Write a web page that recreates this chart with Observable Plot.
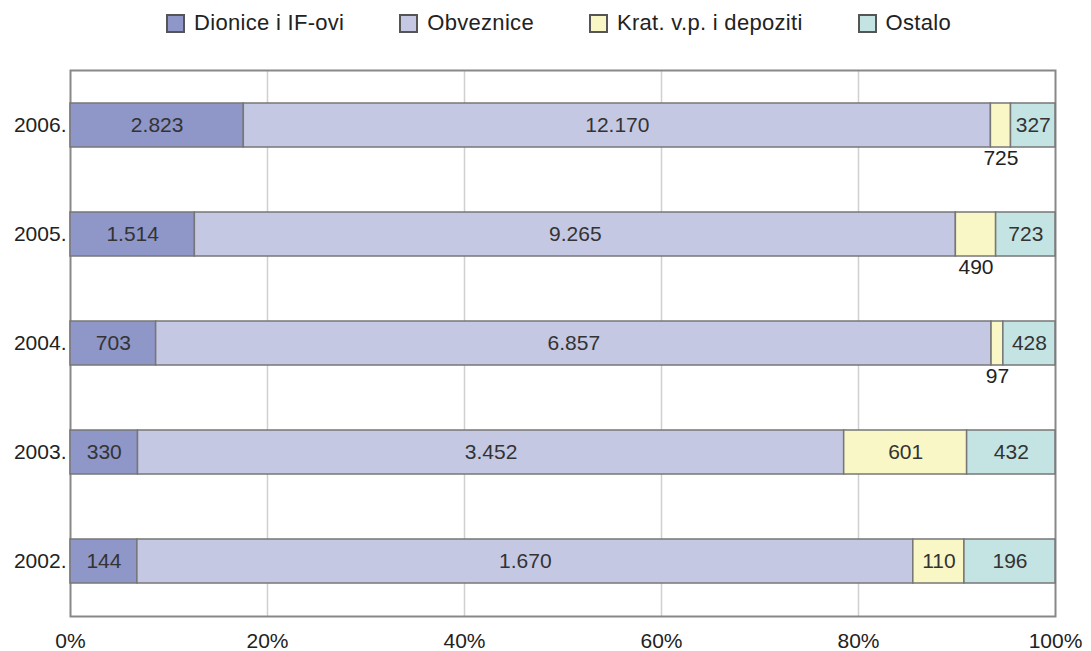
<!DOCTYPE html>
<html><head><meta charset="utf-8">
<script src="https://cdn.jsdelivr.net/npm/d3@7"></script>
<script src="https://cdn.jsdelivr.net/npm/@observablehq/plot@0.6"></script>
<style>
body{margin:0;background:#fff;font-family:"Liberation Sans",Arial,sans-serif;}
#legend{display:flex;justify-content:flex-start;gap:55px;height:45px;align-items:center;font-size:22px;letter-spacing:0.3px;color:#222;padding-left:166px;padding-top:1px;box-sizing:border-box;width:1091px;}
#legend .item{display:flex;align-items:center;}
#legend .sw{display:inline-block;width:15px;height:15px;border:2px solid #555;margin-right:9px;}
</style></head><body>
<div id="legend"></div><div id="chart"></div>
<script>
const years = ["2006.","2005.","2004.","2003.","2002."];
const series = ["Dionice i IF-ovi","Obveznice","Krat. v.p. i depoziti","Ostalo"];
// segment sizes as drawn in the picture
const dionice = [2823,1514,703,330,144];
const obveznice = [12170,9265,6857,3452,1670];
const krat = [327,490,97,601,110];
const ostalo = [725,723,428,432,196];
// numbers printed on the segments
const dioniceLabels = [2823,1514,703,330,144];
const obvezniceLabels = [12170,9265,6857,3452,1670];
const kratLabels = [725,490,97,601,110];
const ostaloLabels = [327,723,428,432,196];
const colors = ["#8f96c8","#c5c8e3","#f9f7c6","#c4e4e3"];
const xTicks = [0,0.2,0.4,0.6,0.8,1];
const gridTicks = [0.2,0.4,0.6,0.8];
const belowLabels = [["2006.","Krat. v.p. i depoziti"],["2005.","Krat. v.p. i depoziti"],["2004.","Krat. v.p. i depoziti"]];

const valuesBySeries = [dionice, obveznice, krat, ostalo];
const labelsBySeries = [dioniceLabels, obvezniceLabels, kratLabels, ostaloLabels];
const data = [];
years.forEach((y, i) => series.forEach((s, j) => data.push({year: y, series: s, value: valuesBySeries[j][i], label: labelsBySeries[j][i]})));
const isBelow = d => belowLabels.some(([y, s]) => y === d.year && s === d.series);
const fmt = d3.formatLocale({decimal: ",", thousands: ".", grouping: [3], currency: ["", ""]}).format(",");

const legend = document.getElementById("legend");
series.forEach((s, i) => {
  const span = document.createElement("span");
  span.className = "item";
  span.innerHTML = `<span class="sw" style="background:${colors[i]}"></span><span>${s}</span>`;
  legend.appendChild(span);
});

const stackOpts = {x: "value", y: "year", z: "series", order: series, offset: "normalize"};
const chart = Plot.plot({
  width: 1091,
  height: 606,
  marginTop: 25,
  marginBottom: 35,
  marginLeft: 70,
  marginRight: 36,
  style: {fontFamily: "'Liberation Sans', Arial, sans-serif", fontSize: "21px", color: "#222", background: "#fff"},
  x: {domain: [0, 1], ticks: xTicks, tickFormat: d3.format(".0%"), label: null, tickSize: 0, tickPadding: 17},
  y: {domain: years, label: null, tickSize: 0, tickPadding: 4, paddingInner: 0.6, paddingOuter: 0.3},
  color: {domain: series, range: colors},
  marks: [
    Plot.ruleX(gridTicks, {stroke: "#d0d0d0", strokeWidth: 1.5}),
    Plot.frame({stroke: "#888", strokeWidth: 2}),
    Plot.barX(data, Plot.stackX({...stackOpts, fill: "series", stroke: "#777", strokeWidth: 1.5})),
    Plot.text(data, Plot.stackX({...stackOpts, text: d => isBelow(d) ? "" : fmt(d.label), fill: "#333", fontSize: 21})),
    Plot.text(data, Plot.stackX({...stackOpts, text: d => isBelow(d) ? fmt(d.label) : "", fill: "#222", fontSize: 21, dy: 33}))
  ]
});
document.getElementById("chart").appendChild(chart);
</script>
</body></html>
